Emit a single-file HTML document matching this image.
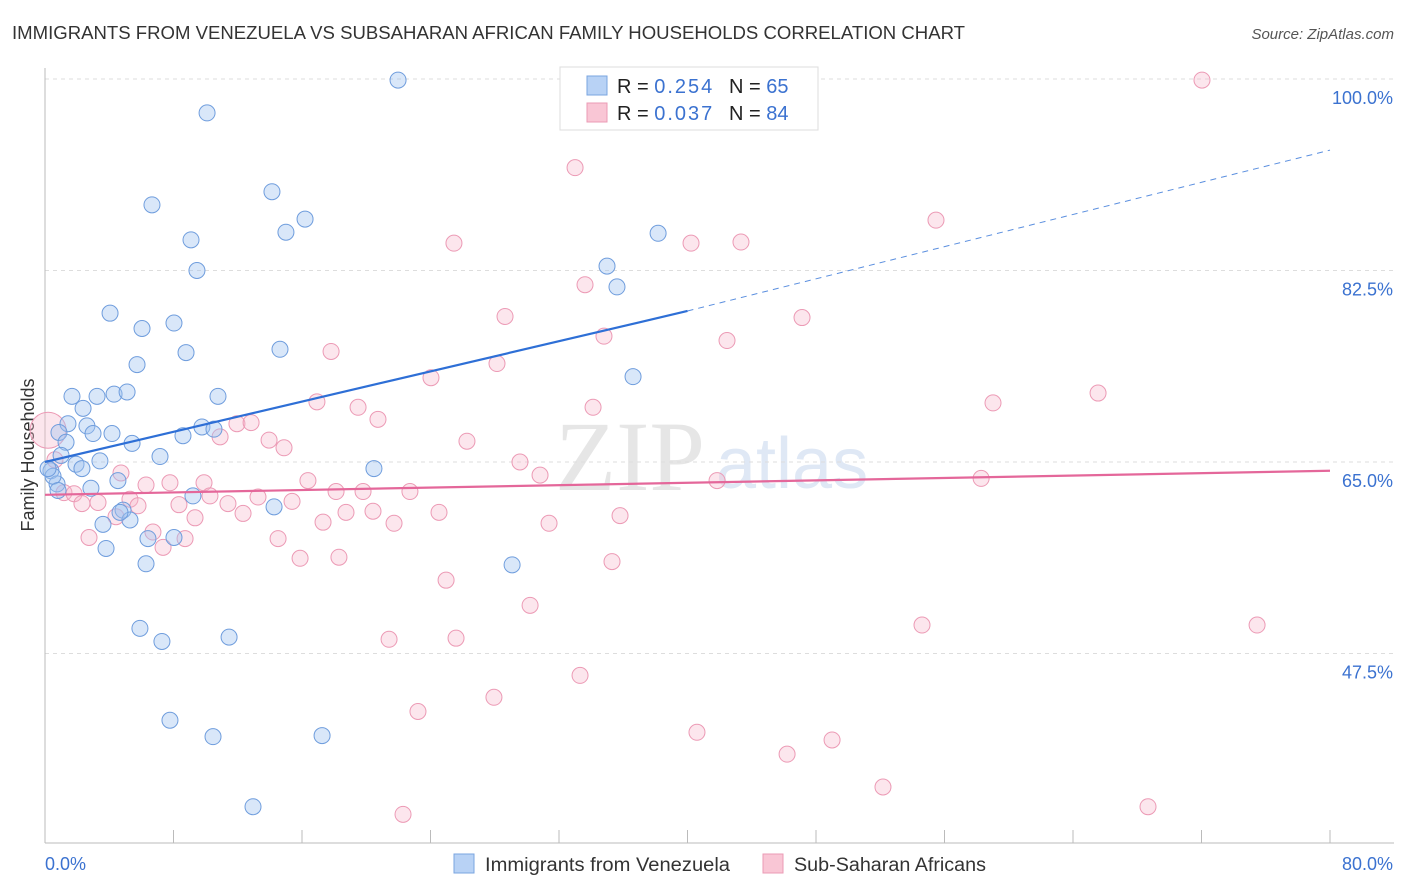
<!DOCTYPE html>
<html><head><meta charset="utf-8"><style>
body{margin:0;background:#fff;font-family:"Liberation Sans",sans-serif}
svg{display:block}
</style></head><body>
<svg id="c" width="1406" height="892" xmlns="http://www.w3.org/2000/svg">
<text x="12" y="39" font-size="18" fill="#333" textLength="953" lengthAdjust="spacingAndGlyphs">IMMIGRANTS FROM VENEZUELA VS SUBSAHARAN AFRICAN FAMILY HOUSEHOLDS CORRELATION CHART</text>
<text x="1394" y="39" font-size="15" fill="#555" font-style="italic" text-anchor="end">Source: ZipAtlas.com</text>
<text x="555" y="490" font-size="100" fill="#e6e6e6" font-family="Liberation Serif">ZIP</text>
<text x="716" y="488" font-size="72" fill="#dfe8f5">atlas</text>
<text transform="translate(34,455) rotate(-90)" font-size="18" fill="#333" text-anchor="middle">Family Households</text>
<g id="grid"></g><g id="pts"></g><g id="lines"></g>
<g>
<rect x="560" y="67" width="258" height="63" fill="#fff" stroke="#ddd"/>
<rect x="587" y="76" width="20" height="19" fill="#b8d2f5" stroke="#7aa5e0"/>
<rect x="587" y="103" width="20" height="19" fill="#f9c6d5" stroke="#eb9bb5"/>
<text x="617" y="93" font-size="20" fill="#222">R = <tspan fill="#3b72d0" textLength="58">0.254</tspan><tspan x="729">N = </tspan><tspan fill="#3b72d0">65</tspan></text>
<text x="617" y="120" font-size="20" fill="#222">R = <tspan fill="#3b72d0" textLength="58">0.037</tspan><tspan x="729">N = </tspan><tspan fill="#3b72d0">84</tspan></text>
</g>
<g>
<rect x="454" y="854" width="20" height="19" fill="#b8d2f5" stroke="#7aa5e0"/>
<text x="485" y="871" font-size="19" fill="#333" textLength="245" lengthAdjust="spacingAndGlyphs">Immigrants from Venezuela</text>
<rect x="763" y="854" width="20" height="19" fill="#f9c6d5" stroke="#eb9bb5"/>
<text x="794" y="871" font-size="19" fill="#333" textLength="192" lengthAdjust="spacingAndGlyphs">Sub-Saharan Africans</text>
</g>
</svg>
<script>
const yTicks=[100,82.5,65,47.5];
const yTickLabels=["100.0%","82.5%","65.0%","47.5%"];
const xTickLabels=["0.0%","80.0%"];
const blueX=[21.98,10.09,6.66,14.13,16.19,15.00,9.09,9.46,34.99,35.61,38.17,4.05,6.04,8.03,8.78,14.63,5.73,1.68,3.24,4.30,5.11,10.77,36.61,2.37,1.43,2.61,0.87,2.99,4.17,1.31,5.42,8.59,9.77,10.52,1.00,3.42,7.16,1.93,2.30,0.37,20.48,4.54,0.75,2.86,9.21,14.26,4.86,5.29,3.61,6.41,8.03,3.80,6.29,29.08,5.91,7.28,11.46,7.78,10.46,17.25,12.95,0.50,0.81,4.67,0.19];
const blueY=[99.9,96.9,88.5,89.7,87.2,86.0,85.3,82.5,82.9,81.0,85.9,78.6,77.2,77.7,75.0,75.3,73.9,71.0,71.0,71.2,71.4,71.0,72.8,69.9,68.5,68.3,67.7,67.6,67.6,66.8,66.7,67.4,68.2,68.0,65.6,65.1,65.5,64.8,64.4,64.2,64.4,63.3,63.0,62.6,61.9,60.9,60.6,59.7,59.3,58.0,58.1,57.1,55.7,55.6,49.8,48.6,49.0,41.4,39.9,40.0,33.5,63.7,62.4,60.4,64.4];
const pinkX=[72.03,33.00,55.47,25.46,40.22,43.33,33.62,28.64,47.13,34.80,42.46,17.81,28.14,24.03,65.56,59.02,16.93,19.49,34.12,20.73,11.95,12.83,10.90,13.95,14.88,26.27,29.57,30.82,4.73,16.37,41.84,58.28,9.90,6.29,7.78,18.12,19.80,22.72,1.18,1.81,10.27,13.26,15.38,5.29,2.30,3.30,5.79,8.34,11.39,12.33,18.74,20.42,24.53,4.42,9.34,17.31,21.73,31.38,35.80,6.72,2.74,8.72,14.51,7.35,15.88,18.30,35.30,24.97,30.20,21.42,25.59,54.60,75.46,33.31,27.95,23.22,40.59,46.20,49.00,52.17,68.67,22.29,0.19,0.62];
const pinkY=[99.9,91.9,87.1,85.0,85.0,85.1,81.2,78.3,78.2,76.5,76.1,75.1,74.0,72.7,71.3,70.4,70.5,70.0,70.0,68.9,68.5,68.6,67.3,67.0,66.3,66.9,65.0,63.8,64.0,63.3,63.3,63.5,63.1,62.9,63.1,62.3,62.3,62.3,62.2,62.1,61.9,61.8,61.4,61.6,61.2,61.3,61.0,61.1,61.2,60.3,60.4,60.5,60.4,60.0,59.9,59.5,59.4,59.4,60.1,58.6,58.1,58.0,58.0,57.2,56.2,56.3,55.9,54.2,51.9,48.8,48.9,50.1,50.1,45.5,43.5,42.2,40.3,38.3,39.6,35.3,33.5,32.8,67.9,65.2];
const blueTrend=[65.0,78.8,93.5]; // at x=0, 40, 80
const pinkTrend=[62.0,64.2];      // at x=0, 80
const X0=45,X1=1330,Y0=79;
const xs=v=>X0+(X1-X0)*v/80;
const ys=v=>Y0+(100-v)*(191.5/17.5);
const NS="http://www.w3.org/2000/svg";
function mk(tag,attrs,parent){const e=document.createElementNS(NS,tag);for(const k in attrs)e.setAttribute(k,attrs[k]);parent.appendChild(e);return e;}
const grid=document.getElementById('grid');
yTicks.forEach((t,i)=>{
 const g=mk('line',{x1:45,x2:1394,y1:ys(t),y2:ys(t),stroke:'#ddd','stroke-dasharray':'4,4'},grid);
 
 
 const l=mk('text',{x:1393,y:ys(t)+25,'font-size':18,fill:'#3b72d0','text-anchor':'end'},grid);
 l.textContent=yTickLabels[i];
 
 
});
const ax=mk('line',{x1:45,x2:45,y1:68,y2:843,stroke:'#bbb'},grid);


const bx=mk('line',{x1:45,x2:1394,y1:843,y2:843,stroke:'#bbb'},grid);


for(let v=0;v<=80;v+=8){
 const t=mk('line',{x1:xs(v),x2:xs(v),y1:830,y2:843,stroke:'#bbb'},grid);
 
 
}
[[0,'start',45],[80,'end',1393]].forEach((a,i)=>{
 const l=mk('text',{x:a[2],y:870,'font-size':18,fill:'#3b72d0','text-anchor':a[1]},grid);
 l.textContent=xTickLabels[i];
 
 
});
const pts=document.getElementById('pts');
pinkX.forEach((x,i)=>{
 const big=i===pinkX.length-2;
 const c=mk('circle',{cx:xs(x),cy:ys(pinkY[i]),r:big?18:8,fill:'rgba(246,182,202,0.35)',stroke:'#ec9ab5','stroke-width':1},pts);
 
 
});
blueX.forEach((x,i)=>{
 const c=mk('circle',{cx:xs(x),cy:ys(blueY[i]),r:8,fill:'rgba(160,195,240,0.4)',stroke:'#6f9ddd','stroke-width':1},pts);
 
 
});
const lines=document.getElementById('lines');
const b1=mk('line',{x1:xs(0),y1:ys(blueTrend[0]),x2:xs(40),y2:ys(blueTrend[1]),stroke:'#2e6fd6','stroke-width':2.2},lines);


const b2=mk('line',{x1:xs(40),y1:ys(blueTrend[1]),x2:xs(80),y2:ys(blueTrend[2]),stroke:'#5b8fdf','stroke-width':1,'stroke-dasharray':'6,5'},lines);


const p1=mk('line',{x1:xs(0),y1:ys(pinkTrend[0]),x2:xs(80),y2:ys(pinkTrend[1]),stroke:'#e4679a','stroke-width':2.2},lines);


</script>
</body></html>
